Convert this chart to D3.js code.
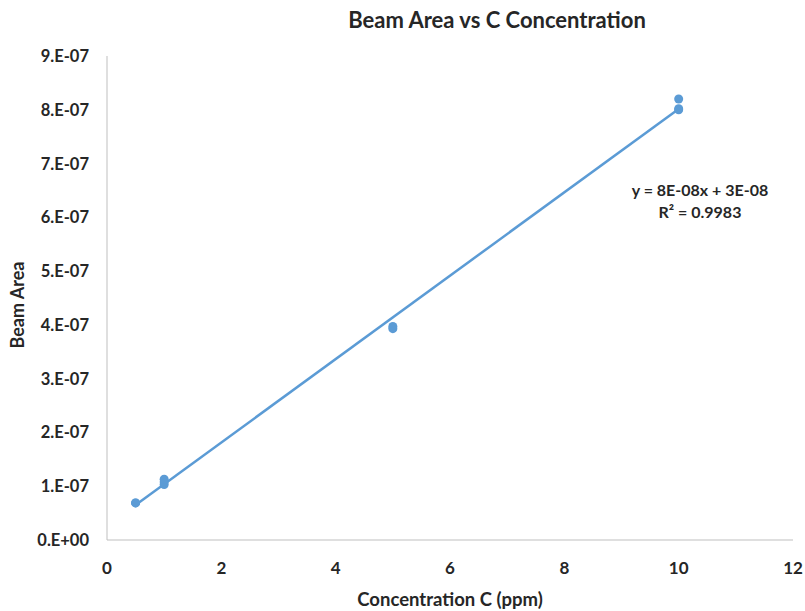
<!DOCTYPE html>
<html><head><meta charset="utf-8">
<script src="https://cdn.jsdelivr.net/npm/d3@7"></script>
<style>body{margin:0;background:#fff}svg{display:block}text{font-family:Lato,"Open Sans",sans-serif;font-weight:bold;fill:#262626}</style>
</head><body><svg id="c" width="805" height="611"></svg>
<script>
const concentration = [0.5, 0.5, 1, 1, 1, 5, 5, 10, 10, 10];
const beamArea = [6.9e-8, 6.9e-8, 1.03e-7, 1.08e-7, 1.13e-7, 3.93e-7, 3.97e-7, 8.0e-7, 8.02e-7, 8.2e-7];
const xTicks = [0, 2, 4, 6, 8, 10, 12];
const yTicks = [0, 1e-7, 2e-7, 3e-7, 4e-7, 5e-7, 6e-7, 7e-7, 8e-7, 9e-7];
const yTickLabels = ["0.E+00","1.E-07","2.E-07","3.E-07","4.E-07","5.E-07","6.E-07","7.E-07","8.E-07","9.E-07"];
const equationLines = ["y = 8E-08x + 3E-08", "R² = 0.9983"];

const svg = d3.select("#c");
const x = d3.scaleLinear().domain([0, 12]).range([107, 793]);
const y = d3.scaleLinear().domain([0, 9e-7]).range([540, 56]);

svg.append("line").attr("x1", x(0)).attr("x2", x(0)).attr("y1", y(9e-7)).attr("y2", y(0)).attr("stroke", "#bfbfbf").attr("stroke-width", 1);
svg.append("line").attr("x1", x(0)).attr("x2", x(12)).attr("y1", y(0)).attr("y2", y(0)).attr("stroke", "#bfbfbf").attr("stroke-width", 1);

svg.selectAll(".xt").data(xTicks).enter().append("text")
  .attr("x", d => x(d)).attr("y", 574).attr("text-anchor", "middle").attr("font-size", 17).text(d => d);
svg.selectAll(".yt").data(yTicks).enter().append("text")
  .attr("x", 89).attr("y", d => y(d) + 6).attr("text-anchor", "end").attr("font-size", 16.5).text((d, i) => yTickLabels[i]);

const n = concentration.length;
const mx = d3.mean(concentration), my = d3.mean(beamArea);
let sxy = 0, sxx = 0;
for (let i = 0; i < n; i++) { sxy += (concentration[i] - mx) * (beamArea[i] - my); sxx += (concentration[i] - mx) ** 2; }
const slope = sxy / sxx, intercept = my - slope * mx;
const [x0, x1] = d3.extent(concentration);
svg.append("line").attr("x1", x(x0)).attr("y1", y(slope * x0 + intercept))
  .attr("x2", x(x1)).attr("y2", y(slope * x1 + intercept))
  .attr("stroke", "#5b9bd5").attr("stroke-width", 2.5);

svg.selectAll(".pt").data(concentration).enter().append("circle")
  .attr("cx", d => x(d)).attr("cy", (d, i) => y(beamArea[i])).attr("r", 4.5).attr("fill", "#5b9bd5");

svg.selectAll(".eq").data(equationLines).enter().append("text")
  .attr("x", 700).attr("y", (d, i) => 196 + i * 22).attr("text-anchor", "middle").attr("font-size", 16).text(d => d);

svg.append("text").attr("x", 497).attr("y", 28).attr("text-anchor", "middle").attr("font-size", 22).text("Beam Area vs C Concentration");
svg.append("text").attr("x", 450).attr("y", 606).attr("text-anchor", "middle").attr("font-size", 18.5).text("Concentration C (ppm)");
svg.append("text").attr("transform", "translate(24,305) rotate(-90)").attr("text-anchor", "middle").attr("font-size", 18).text("Beam Area");
</script></body></html>
